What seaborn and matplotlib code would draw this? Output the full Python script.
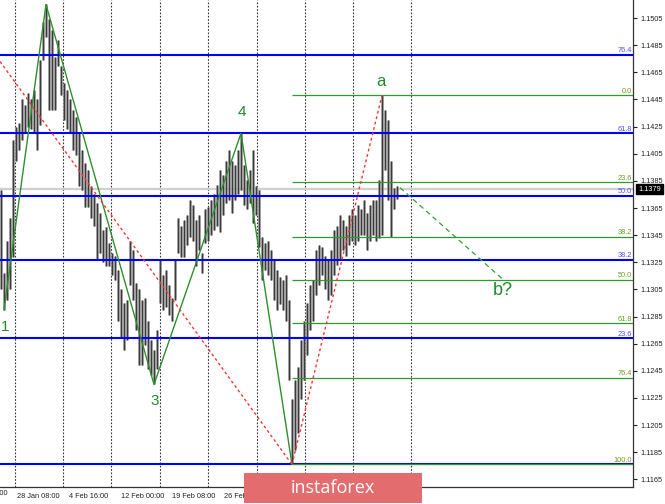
import numpy as np
import pandas as pd
import matplotlib
matplotlib.use('Agg')
import matplotlib.pyplot as plt
import matplotlib.transforms as mtransforms
from matplotlib.patches import Rectangle
import seaborn as sns

# H4 bars (high / low)
bar_high = [1.1378, 1.1317, 1.1341, 1.1358, 1.1415, 1.1425, 1.1428, 1.1445, 1.1441, 1.1450,
            1.1445, 1.1452, 1.1445, 1.1474, 1.1502, 1.1515, 1.1504, 1.1496, 1.1476, 1.1489,
            1.1470, 1.1457, 1.1452, 1.1445, 1.1437, 1.1432, 1.1420, 1.1408, 1.1398, 1.1393,
            1.1381, 1.1375, 1.1369, 1.1361, 1.1349, 1.1351, 1.1339, 1.1332, 1.1330, 1.1319,
            1.1305, 1.1295, 1.1297, 1.1341, 1.1334, 1.1310, 1.1305, 1.1297, 1.1299, 1.1282,
            1.1268, 1.1260, 1.1275, 1.1327, 1.1316, 1.1319, 1.1308, 1.1299, 1.1327, 1.1358,
            1.1352, 1.1356, 1.1360, 1.1371, 1.1367, 1.1356, 1.1360, 1.1332, 1.1364, 1.1366,
            1.1371, 1.1375, 1.1382, 1.1393, 1.1389, 1.1400, 1.1408, 1.1400, 1.1397, 1.1408,
            1.1420, 1.1397, 1.1386, 1.1393, 1.1408, 1.1381, 1.1378, 1.1344, 1.1339, 1.1341,
            1.1334, 1.1327, 1.1319, 1.1314, 1.1312, 1.1316, 1.1297, 1.1224, 1.1238, 1.1248,
            1.1268, 1.1282, 1.1295, 1.1308, 1.1312, 1.1334, 1.1338, 1.1336, 1.1330, 1.1327,
            1.1334, 1.1349, 1.1352, 1.1360, 1.1356, 1.1352, 1.1360, 1.1364, 1.1360, 1.1367,
            1.1364, 1.1371, 1.1361, 1.1367, 1.1371, 1.1371, 1.1386, 1.1448, 1.1437, 1.1430,
            1.1400, 1.1380, 1.1381]
bar_low = [1.1305, 1.1290, 1.1297, 1.1305, 1.1329, 1.1400, 1.1408, 1.1415, 1.1420, 1.1425,
           1.1423, 1.1420, 1.1408, 1.1426, 1.1474, 1.1491, 1.1437, 1.1437, 1.1437, 1.1470,
           1.1448, 1.1430, 1.1423, 1.1420, 1.1408, 1.1404, 1.1381, 1.1378, 1.1366, 1.1366,
           1.1358, 1.1352, 1.1327, 1.1332, 1.1325, 1.1322, 1.1322, 1.1316, 1.1312, 1.1282,
           1.1270, 1.1260, 1.1268, 1.1308, 1.1297, 1.1275, 1.1249, 1.1249, 1.1264, 1.1246,
           1.1242, 1.1235, 1.1246, 1.1295, 1.1290, 1.1292, 1.1286, 1.1282, 1.1297, 1.1332,
           1.1329, 1.1329, 1.1338, 1.1344, 1.1341, 1.1322, 1.1334, 1.1317, 1.1339, 1.1341,
           1.1345, 1.1349, 1.1352, 1.1347, 1.1360, 1.1369, 1.1371, 1.1361, 1.1371, 1.1375,
           1.1378, 1.1367, 1.1364, 1.1369, 1.1354, 1.1360, 1.1336, 1.1312, 1.1319, 1.1316,
           1.1312, 1.1297, 1.1290, 1.1294, 1.1290, 1.1282, 1.1238, 1.1176, 1.1187, 1.1199,
           1.1224, 1.1238, 1.1257, 1.1275, 1.1282, 1.1301, 1.1308, 1.1316, 1.1305, 1.1297,
           1.1301, 1.1316, 1.1323, 1.1327, 1.1334, 1.1330, 1.1338, 1.1341, 1.1338, 1.1341,
           1.1345, 1.1345, 1.1334, 1.1341, 1.1345, 1.1341, 1.1343, 1.1345, 1.1393, 1.1371,
           1.1344, 1.1364, 1.1372]

# elliott wave count (bar index, price)
wave_idx = [1, 15, 51, 80, 97]
wave_price = [1.1290, 1.1515, 1.1235, 1.1420, 1.1176]
wave_names = ['1', '3', '4']
wave_name_pos = [(1.3, 1.1277), (51.3, 1.1223), (80.3, 1.1436)]

# red trend lines
red1_idx = [-0.33, 97]
red1_price = [1.1473, 1.1176]
red2_idx = [97, 127]
red2_price = [1.1176, 1.1448]

# projection to b?
proj_idx = [133, 167]
proj_price = [1.1380, 1.1313]

# fibonacci levels
blue_levels = [1.1478, 1.1420, 1.1374, 1.1327, 1.1269, 1.1176]
blue_labels = ['76.4', '61.8', '50.0', '38.2', '23.6', '']
green_levels = [1.1448, 1.1384, 1.1344, 1.1312, 1.1280, 1.1240, 1.1176]
green_labels = ['0.0', '23.6', '38.2', '50.0', '61.8', '76.4', '100.0']
green_start = 97

last_price = 1.1379

price_ticks = [1.1165, 1.1185, 1.1205, 1.1225, 1.1245, 1.1265, 1.1285, 1.1305, 1.1325,
               1.1345, 1.1365, 1.1385, 1.1405, 1.1425, 1.1445, 1.1465, 1.1485, 1.1505]
date_pos = [5.33, 22.67, 40, 57, 74.33]
date_labels = ['28 Jan 08:00', '4 Feb 16:00', '12 Feb 00:00', '19 Feb 08:00', '26 Feb 16:00']
grid_x = [4.67, 20.67, 36.67, 53, 69, 85.33, 101.33, 117.33, 136.67]

sns.set_style('white')
plt.rcParams['font.family'] = ['Liberation Sans', 'DejaVu Sans']

fig = plt.figure(figsize=(6.65, 5.04), dpi=100)
ax = fig.add_axes([0, 17 / 504, 633 / 665, 487 / 504])
ax.set_xlim(-1 / 3, 632 / 3)
ax.set_ylim(1.11594, 1.15183)

# grid
for gx in grid_x:
    ax.axvline(gx, color='#333333', lw=0.8, ls=(0, (1.5, 1.5)), zorder=1)

# current price line
ax.axhline(last_price, color='#cfcfcf', lw=1.6, zorder=1)

# bars
idx = np.arange(len(bar_high))
ax.vlines(idx, bar_low, bar_high, color='#8c8c8c', lw=1.9, zorder=2)
ax.vlines(idx, bar_low, bar_high, color='#2a2a2a', lw=0.6, zorder=2)

# blue fib
for lvl, txt in zip(blue_levels, blue_labels):
    ax.axhline(lvl, color='#0000ff', lw=1.5, zorder=3)
    if txt:
        ax.text(210.3, lvl + 0.00004, txt, ha='right', va='bottom', color='#5050ff', fontsize=5.3)

# green fib
ax.hlines(green_levels, green_start, 632 / 3, color='#2f9a2f', lw=0.9, zorder=3)
for lvl, txt in zip(green_levels, green_labels):
    ax.text(210.3, lvl + 0.00004, txt, ha='right', va='bottom', color='#6c9c22', fontsize=5.3)

# waves
sns.lineplot(x=wave_idx, y=wave_price, sort=False, color='#2d8f2d', lw=1.0, ax=ax, zorder=4)
ax.plot(red1_idx, red1_price, color='#ff3333', lw=1.0, ls=(0, (2, 2)), zorder=4)
ax.plot(red2_idx, red2_price, color='#ff3333', lw=1.0, ls=(0, (2, 2)), zorder=4)
ax.plot(proj_idx, proj_price, color='#33a033', lw=0.9, ls=(0, (4, 3)), zorder=4)

for name, (xx, yy) in zip(wave_names, wave_name_pos):
    ax.text(xx, yy, name, ha='center', va='center', color='#1f8a2a', fontsize=11)
ax.text(126.7, 1.1458, 'a', ha='center', va='center', color='#1f8a2a', fontsize=12)
ax.text(167.3, 1.1304, 'b?', ha='center', va='center', color='#1f8a2a', fontsize=13)

# axes styling
for s in ['top', 'left']:
    ax.spines[s].set_visible(False)
for s in ['right', 'bottom']:
    ax.spines[s].set_color('#333333')
    ax.spines[s].set_linewidth(0.9)
ax.yaxis.tick_right()
ax.set_yticks(price_ticks)
ax.set_yticklabels([f'{t:.4f}' for t in price_ticks])
ax.tick_params(axis='y', length=3, width=0.8, pad=2, labelsize=5.3, colors='#222222')
ax.set_xticks(date_pos)
ax.set_xticklabels(date_labels)
for lab in ax.get_xticklabels():
    lab.set_ha('left')
ax.tick_params(axis='x', length=3, width=0.8, pad=1.5, labelsize=5.3, colors='#222222')
ax.set_xlabel('')
ax.set_ylabel('')

# cut label on the left edge
trans = mtransforms.blended_transform_factory(ax.transData, ax.transAxes)
ax.text(-12, -0.0065, '21 Jan 00:00', transform=trans, ha='left', va='top',
        fontsize=5.3, color='#222222', clip_on=False)

# last price tag
tag_trans = mtransforms.blended_transform_factory(ax.transAxes, ax.transData)
ax.text(1.008, last_price, '1.1379', transform=tag_trans, ha='left', va='center',
        fontsize=5.3, color='white', clip_on=False,
        bbox=dict(boxstyle='square,pad=0.25', fc='black', ec='black'))

# logo
fig.patches.append(Rectangle((244 / 665, 1 / 504), 178 / 665, 30 / 504,
                             transform=fig.transFigure, fc='#e26c6e', ec='none', zorder=10))
fig.text(333 / 665, 16 / 504, 'instaforex', ha='center', va='center', color='white',
         fontsize=13, family='Open Sans', zorder=11)

fig.savefig('out.png', dpi=100)
